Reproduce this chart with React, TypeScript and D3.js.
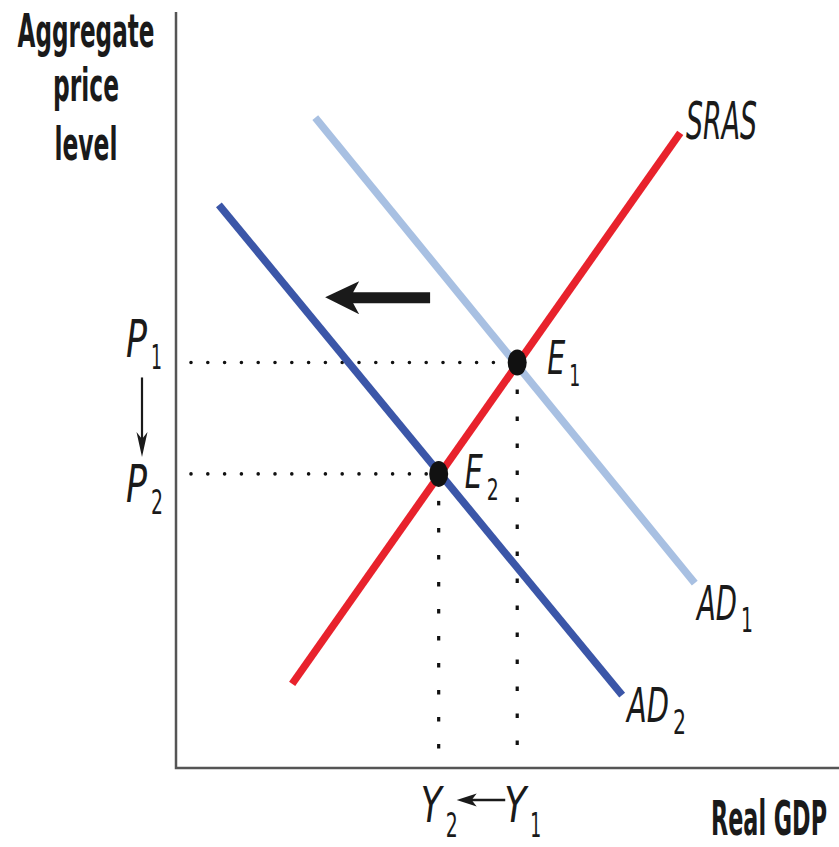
import React from "react";
import * as d3 from "d3";

// Curve endpoints (quantity, price) in chart units
const srasCurve = [
  { q: 17.6, p: 11.1 },
  { q: 76.4, p: 83.8 },
];
const ad1Curve = [
  { q: 21.1, p: 85.8 },
  { q: 78.6, p: 24.4 },
];
const ad2Curve = [
  { q: 6.5, p: 74.3 },
  { q: 67.6, p: 9.6 },
];
const equilibria = [
  { name: "E", sub: "1", q: 51.7, p: 53.5 },
  { name: "E", sub: "2", q: 39.8, p: 38.8 },
];
const shiftArrow = { fromQ: 38.5, toQ: 22.6, p: 62.1 };
const priceTicks = [
  { name: "P", sub: "1", p: 53.5 },
  { name: "P", sub: "2", p: 38.8 },
];
const qtyTicks = [
  { name: "Y", sub: "2", q: 39.8 },
  { name: "Y", sub: "1", q: 51.7 },
];
const yTitle = ["Aggregate", "price", "level"];
const xTitle = "Real GDP";

const W = 839;
const H = 847;
const FONT = "'DejaVu Sans Condensed','Liberation Sans Narrow','Open Sans',sans-serif";

const x = d3.scaleLinear().domain([0, 100]).range([176, 836]);
const y = d3.scaleLinear().domain([0, 100]).range([768, 10]);

const line = d3
  .line<{ q: number; p: number }>()
  .x((d) => x(d.q))
  .y((d) => y(d.p));

function T({ x, y, text, size, width, italic, bold, anchor }: any) {
  return (
    <text
      x={x}
      y={y}
      fontSize={size}
      fontFamily={FONT}
      fontStyle={italic ? "italic" : "normal"}
      fontWeight={bold ? "bold" : "normal"}
      textLength={width}
      lengthAdjust="spacingAndGlyphs"
      textAnchor={anchor || "start"}
      fill="#1a1a1a"
    >
      {text}
    </text>
  );
}

function Sub({ x, y, main, sub, mainW, subW, size = 48, subSize = 33, subDy = 12 }: any) {
  return (
    <g>
      <T x={x} y={y} text={main} size={size} width={mainW} italic />
      <T x={x + mainW + 4} y={y + subDy} text={sub} size={subSize} width={subW} />
    </g>
  );
}

export default function App() {
  const ax = x(0);
  const ay = y(0);
  const sy = y(shiftArrow.p);
  const sx0 = x(shiftArrow.fromQ);
  const sx1 = x(shiftArrow.toQ);
  const p1y = y(priceTicks[0].p);
  const p2y = y(priceTicks[1].p);
  const y2x = x(qtyTicks[0].q);
  const y1x = x(qtyTicks[1].q);
  return (
    <svg width={W} height={H} style={{ display: "block", position: "absolute", left: 0, top: 0 }}>
      <rect width={W} height={H} fill="#fff" />
      {/* axes */}
      <path d={`M${ax},${y(100) + 2}V${ay}H${W}`} fill="none" stroke="#555" strokeWidth={2.5} />

      {/* dotted guides */}
      {equilibria.map((e, i) => (
        <g key={i}>
          <line
            x1={ax + 15}
            x2={x(e.q)}
            y1={y(e.p)}
            y2={y(e.p)}
            stroke="#111"
            strokeWidth={3.6}
            strokeLinecap="round"
            strokeDasharray="0 16.8"
          />
          <line
            x1={x(e.q)}
            x2={x(e.q)}
            y1={y(e.p) + 27}
            y2={ay - 2}
            stroke="#111"
            strokeWidth={3.2}
            strokeDasharray="4.5 22.5"
          />
        </g>
      ))}

      {/* curves */}
      <path d={line(ad1Curve)!} stroke="#a8c0e2" strokeWidth={7.5} fill="none" />
      <path d={line(ad2Curve)!} stroke="#3b56a8" strokeWidth={7.5} fill="none" />
      <path d={line(srasCurve)!} stroke="#e8222c" strokeWidth={7.5} fill="none" />

      {/* equilibrium points */}
      {equilibria.map((e, i) => (
        <ellipse key={i} cx={x(e.q)} cy={y(e.p)} rx={9.5} ry={13} fill="#111" />
      ))}

      {/* shift arrow */}
      <path
        d={`M${sx1},${sy} L${sx1 + 34},${sy - 16} L${sx1 + 28},${sy - 5} L${sx0},${sy - 5} L${sx0},${sy + 6} L${sx1 + 28},${sy + 6} L${sx1 + 34},${sy + 17} Z`}
        fill="#1a1a1a"
      />

      {/* curve labels */}
      <T x={686} y={139} text="SRAS" size={51} width={71} italic />
      <Sub x={697} y={620} main="AD" sub="1" mainW={40} subW={12} />
      <Sub x={627} y={722} main="AD" sub="2" mainW={42} subW={13} />
      <Sub x={x(equilibria[0].q) + 30} y={y(equilibria[0].p) + 12} main="E" sub="1" mainW={18} subW={11} size={46} subSize={31} />
      <Sub x={x(equilibria[1].q) + 26} y={y(equilibria[1].p) + 14} main="E" sub="2" mainW={18} subW={12} size={46} subSize={31} />

      {/* price labels */}
      <Sub x={126} y={p1y - 5} main="P" sub="1" mainW={21} subW={11} size={52} subSize={34} />
      <Sub x={126} y={p2y + 28} main="P" sub="2" mainW={21} subW={12} size={52} subSize={34} />
      <line x1={142} x2={142} y1={p1y + 15} y2={p2y - 30} stroke="#1a1a1a" strokeWidth={2.2} />
      <path d={`M142,${p2y - 17} L136.5,${p2y - 42} L142,${p2y - 35} L147.5,${p2y - 42} Z`} fill="#1a1a1a" />

      {/* quantity labels */}
      <Sub x={y2x - 18} y={822} main="Y" sub="2" mainW={21} subW={12} size={50} subSize={33} subDy={15} />
      <Sub x={y1x - 13} y={822} main="Y" sub="1" mainW={22} subW={11} size={50} subSize={33} subDy={15} />
      <line x1={y2x + 28} x2={y1x - 12} y1={800} y2={800} stroke="#1a1a1a" strokeWidth={2.4} />
      <path d={`M${y2x + 18},800 L${y2x + 38},793.5 L${y2x + 33},800 L${y2x + 38},806.5 Z`} fill="#1a1a1a" />

      {/* axis titles */}
      {yTitle.map((t, i) => (
        <T key={t} x={86} y={[47, 101, 160][i]} text={t} size={46} width={[137, 66, 63][i]} bold anchor="middle" />
      ))}
      <T x={711} y={835} text={xTitle} size={48} width={116} bold />
    </svg>
  );
}
